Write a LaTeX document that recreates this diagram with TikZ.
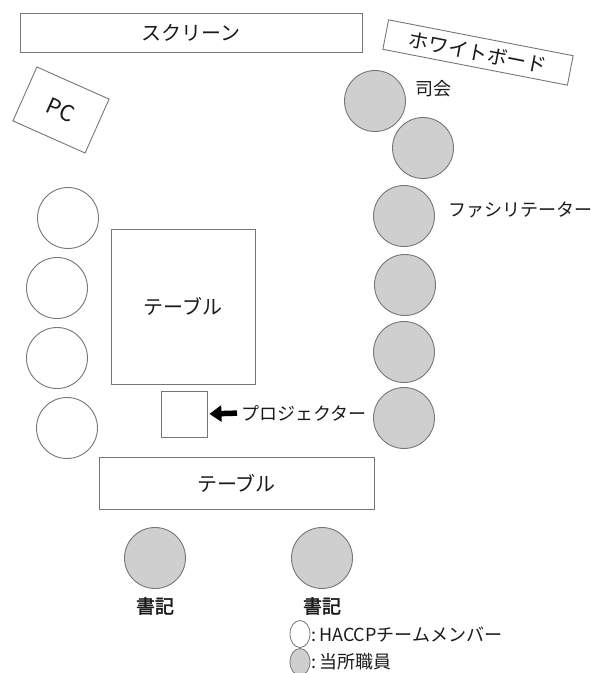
\documentclass[tikz,border=0pt]{standalone}
\usepackage{fontspec}
\setmainfont{Noto Sans CJK JP}
\newfontfamily\cjkbold[FakeBold=2]{Noto Sans CJK JP}
\usetikzlibrary{arrows.meta,shapes.geometric}
\definecolor{edgegray}{HTML}{767676}
\definecolor{seatgray}{HTML}{D0CFD0}
\definecolor{txt}{HTML}{1A1A1A}
\tikzset{
  box/.style={draw=edgegray, line width=0.9pt, rectangle, inner sep=0pt, text=txt},
  member/.style={draw=edgegray, line width=0.9pt, circle, minimum size=61pt, inner sep=0pt, fill=white},
  staff/.style={draw=edgegray, line width=0.9pt, circle, minimum size=61pt, inner sep=0pt, fill=seatgray},
  lbl/.style={inner sep=0pt, text=txt, font=\fontsize{18}{20}\selectfont},
  legmark/.style={draw=edgegray, line width=0.8pt, ellipse, minimum width=20pt, minimum height=27pt, inner sep=0pt}
}
\begin{document}
\begin{tikzpicture}[x=1pt,y=-1pt]
\useasboundingbox (0,0) rectangle (602,673);
% screen
\node[box, minimum width=342pt, minimum height=39pt, font=\fontsize{20}{22}\selectfont] (screen) at (191,32.5) {スクリーン};
% whiteboard
\node[box, minimum width=188pt, minimum height=30pt, rotate=-11, font=\fontsize{20}{22}\selectfont] (wb) at (478,52.5) {ホワイトボード};
% PC
\node[box, minimum width=79pt, minimum height=59pt, rotate=-24, font=\fontsize{22}{24}\selectfont] (pc) at (61,110) {PC};
% tables
\node[box, minimum width=144pt, minimum height=155pt, font=\fontsize{20}{22}\selectfont] (table1) at (183,306.5) {テーブル};
\node[box, minimum width=275pt, minimum height=52pt, font=\fontsize{20}{22}\selectfont] (table2) at (236.5,483) {テーブル};
% projector
\node[box, minimum width=46pt, minimum height=46pt] (proj) at (184,414) {};
% left members
\node[member] (m1) at (68,218) {};
\node[member] (m2) at (57,288) {};
\node[member] (m3) at (57,358) {};
\node[member] (m4) at (67,428) {};
% right staff
\node[staff] (s1) at (375,101) {};
\node[staff] (s2) at (423,148) {};
\node[staff] (s3) at (404,216) {};
\node[staff] (s4) at (405,285) {};
\node[staff] (s5) at (404,352) {};
\node[staff] (s6) at (404,418) {};
% bottom staff
\node[staff] (b1) at (155,558) {};
\node[staff] (b2) at (322,558) {};
% labels
\node[lbl, anchor=west] (chair) at (415,89) {司会};
\node[lbl, anchor=west] (fac) at (448,210) {ファシリテーター};
\node[lbl, anchor=west] (projlbl) at (241,413) {プロジェクター};
\node[inner sep=0pt, text=txt, font=\cjkbold\fontsize{19}{21}\selectfont] (sec1) at (155,606) {書記};
\node[inner sep=0pt, text=txt, font=\cjkbold\fontsize{19}{21}\selectfont] (sec2) at (322,606) {書記};
% arrow
\draw[-{Triangle[length=12pt,width=16pt]}, line width=5.5pt, black, shorten <=4pt, shorten >=2pt] (projlbl.west) -- (proj.east);
% legend
\node[legmark, fill=white] (leg1) at (300,634) {};
\node[legmark, fill=seatgray] (leg2) at (300,662) {};
\node[lbl, anchor=west] (legt1) at (311,634) {:\,HACCPチームメンバー};
\node[lbl, anchor=west] (legt2) at (311,662) {:\,当所職員};
\end{tikzpicture}
\end{document}
